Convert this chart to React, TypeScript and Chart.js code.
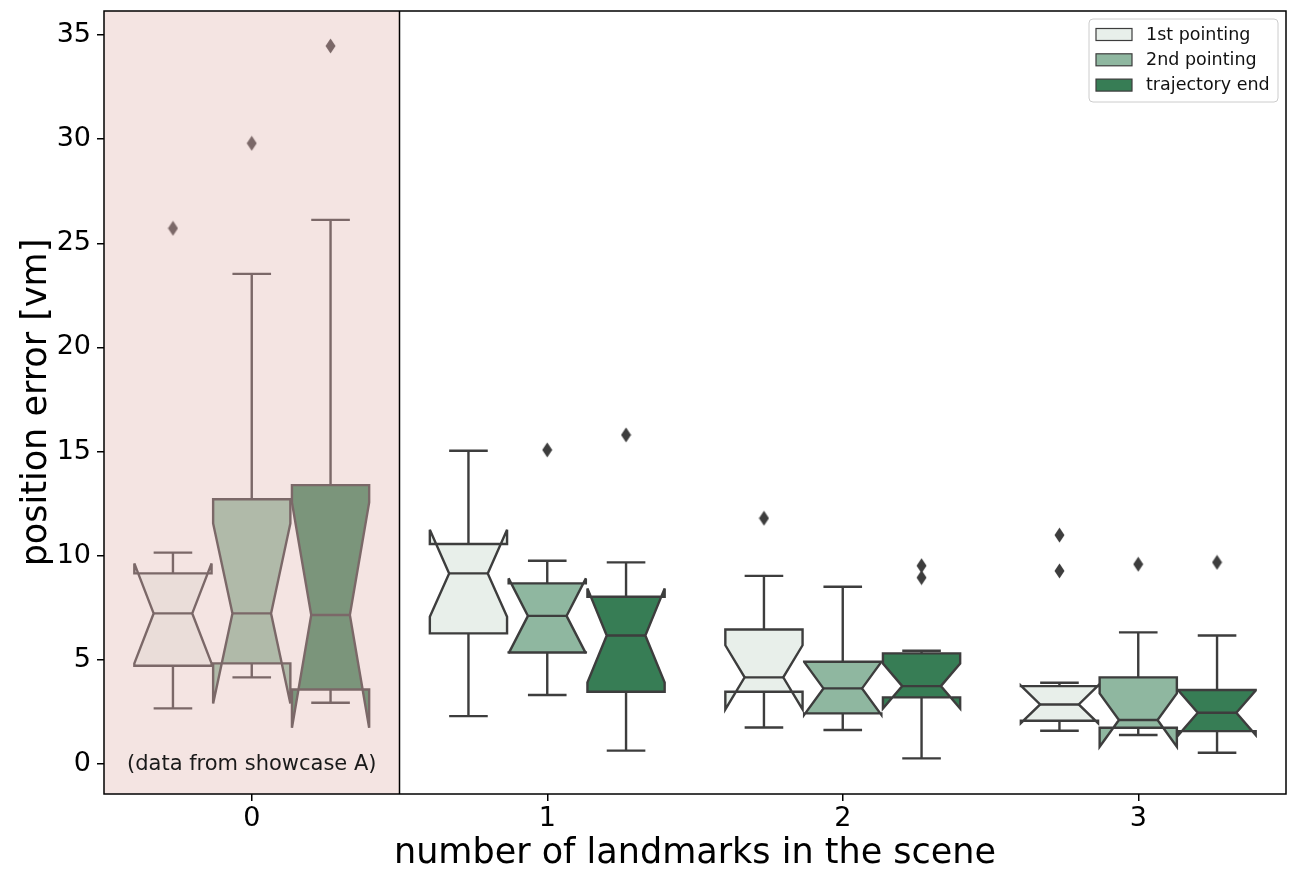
import React, { useEffect, useRef } from 'react';
import { Chart, registerables } from 'chart.js';

Chart.register(...registerables);

// ---------- data ----------
const categories = ['0', '1', '2', '3'];
const seriesNames = ['1st pointing', '2nd pointing', 'trajectory end'];
const yTicks = [0, 5, 10, 15, 20, 25, 30, 35];
const yMin = -1.44;
const yMax = 36.15;

// values are [series][category]
const whiskerLow = [
  [2.67, 2.3, 1.75, 1.6],
  [4.16, 3.31, 1.63, 1.39],
  [2.94, 0.64, 0.27, 0.54],
];
const quartile1 = [
  [4.72, 6.27, 3.47, 2.08],
  [4.83, 5.35, 2.43, 1.74],
  [3.58, 3.47, 3.2, 1.58],
];
const notchLow = [
  [4.83, 7.07, 2.62, 1.96],
  [2.91, 5.31, 2.36, 0.83],
  [1.74, 3.91, 2.66, 1.39],
];
const medians = [
  [7.23, 9.15, 4.16, 2.86],
  [7.23, 7.11, 3.63, 2.11],
  [7.15, 6.17, 3.74, 2.46],
];
const notchHigh = [
  [9.63, 11.25, 5.7, 3.76],
  [11.55, 8.91, 4.9, 3.39],
  [12.56, 8.43, 4.82, 3.53],
];
const quartile3 = [
  [9.15, 10.56, 6.46, 3.74],
  [12.71, 8.67, 4.91, 4.16],
  [13.39, 8.03, 5.31, 3.55],
];
const whiskerHigh = [
  [10.15, 15.04, 9.03, 3.9],
  [23.53, 9.76, 8.51, 6.32],
  [26.12, 9.68, 5.44, 6.17],
];
const outliers = [
  [[25.72], [], [11.8], [10.99, 9.27]],
  [[29.8], [15.08], [], [9.59]],
  [[34.47], [15.8], [9.52, 8.95], [9.68]],
];
const shadedCategories = [0];
const noteText = '(data from showcase A)';
const xTitle = 'number of landmarks in the scene';
const yTitle = 'position error [vm]';

// ---------- style ----------
const FONT = '"DejaVu Sans", sans-serif';
const seriesFill = ['#e8efea', '#8fb7a0', '#377d55'];
const shadedFill = ['#eaddd9', '#b0baa9', '#7b957b'];
const edgeDark = '#3d3d3d';
const edgeShaded = '#7b6868';
const shadeBg = '#f4e4e2';
const groupWidth = 0.8;
const boxLine = 2.4;

const slot = groupWidth / seriesNames.length;
const hueOffset = seriesNames.map((_, s) => (s - (seriesNames.length - 1) / 2) * slot);
const boxWidth = slot * 0.98;

function isShaded(c: number) {
  return shadedCategories.indexOf(c) >= 0;
}

function makeDiamond(color: string) {
  const cv = document.createElement('canvas');
  cv.width = 11;
  cv.height = 16;
  const c = cv.getContext('2d')!;
  c.fillStyle = color;
  c.beginPath();
  c.moveTo(5.5, 0.5);
  c.lineTo(10.5, 8);
  c.lineTo(5.5, 15.5);
  c.lineTo(0.5, 8);
  c.closePath();
  c.fill();
  return cv;
}

const boxPlugin = {
  id: 'notchedBoxes',
  beforeDatasetsDraw(chart: any) {
    const { ctx, chartArea: a, scales } = chart;
    const xs = scales.x;
    const ys = scales.y;
    ctx.save();
    // shaded category background
    shadedCategories.forEach((c) => {
      const l = xs.getPixelForValue(c - 0.5);
      const r = xs.getPixelForValue(c + 0.5);
      ctx.fillStyle = shadeBg;
      ctx.fillRect(l, a.top, r - l, a.bottom - a.top);
    });

    ctx.lineJoin = 'miter';
    ctx.miterLimit = 4;
    ctx.lineCap = 'butt';
    ctx.lineWidth = boxLine;
    const Y = (v: number) => ys.getPixelForValue(v);

    categories.forEach((_, c) => {
      seriesNames.forEach((__, s) => {
        const pos = c + hueOffset[s];
        const shaded = isShaded(c);
        const edge = shaded ? edgeShaded : edgeDark;
        const fill = shaded ? shadedFill[s] : seriesFill[s];
        const left = xs.getPixelForValue(pos - boxWidth / 2);
        const right = xs.getPixelForValue(pos + boxWidth / 2);
        const nl = xs.getPixelForValue(pos - boxWidth / 4);
        const nr = xs.getPixelForValue(pos + boxWidth / 4);
        const cx = xs.getPixelForValue(pos);
        const q1 = Y(quartile1[s][c]);
        const q3 = Y(quartile3[s][c]);
        const lo = Y(notchLow[s][c]);
        const hi = Y(notchHigh[s][c]);
        const md = Y(medians[s][c]);
        const wl = Y(whiskerLow[s][c]);
        const wh = Y(whiskerHigh[s][c]);

        // notched box
        ctx.beginPath();
        ctx.moveTo(left, q1);
        ctx.lineTo(right, q1);
        ctx.lineTo(right, lo);
        ctx.lineTo(nr, md);
        ctx.lineTo(right, hi);
        ctx.lineTo(right, q3);
        ctx.lineTo(left, q3);
        ctx.lineTo(left, hi);
        ctx.lineTo(nl, md);
        ctx.lineTo(left, lo);
        ctx.closePath();
        ctx.fillStyle = fill;
        ctx.fill();
        ctx.strokeStyle = edge;
        ctx.stroke();

        // whiskers and caps
        ctx.beginPath();
        ctx.moveTo(cx, q1);
        ctx.lineTo(cx, wl);
        ctx.moveTo(cx, q3);
        ctx.lineTo(cx, wh);
        ctx.moveTo(nl, wl);
        ctx.lineTo(nr, wl);
        ctx.moveTo(nl, wh);
        ctx.lineTo(nr, wh);
        // median
        ctx.moveTo(nl, md);
        ctx.lineTo(nr, md);
        ctx.stroke();
      });
    });

    // divider of shaded region
    ctx.strokeStyle = '#000';
    ctx.lineWidth = 1.5;
    shadedCategories.forEach((c) => {
      const r = xs.getPixelForValue(c + 0.5);
      ctx.beginPath();
      ctx.moveTo(r, a.top);
      ctx.lineTo(r, a.bottom);
      ctx.stroke();
      ctx.fillStyle = '#1a1a1a';
      ctx.font = '21px ' + FONT;
      ctx.textAlign = 'center';
      ctx.textBaseline = 'alphabetic';
      ctx.fillText(noteText, xs.getPixelForValue(c), a.bottom - 24);
    });
    ctx.restore();
  },
  afterDatasetsDraw(chart: any) {
    const { ctx, chartArea: a } = chart;
    ctx.save();
    // spines
    ctx.strokeStyle = '#000';
    ctx.lineWidth = 1.5;
    ctx.strokeRect(a.left, a.top, a.right - a.left, a.bottom - a.top);

    // legend
    const fw = 189;
    const fh = 83;
    const fx = a.right - 8 - fw;
    const fy = a.top + 8;
    ctx.beginPath();
    if ((ctx as any).roundRect) (ctx as any).roundRect(fx, fy, fw, fh, 4);
    else ctx.rect(fx, fy, fw, fh);
    ctx.fillStyle = 'rgba(255,255,255,0.8)';
    ctx.fill();
    ctx.strokeStyle = '#cccccc';
    ctx.lineWidth = 1;
    ctx.stroke();
    ctx.font = '17.5px ' + FONT;
    ctx.textAlign = 'left';
    ctx.textBaseline = 'alphabetic';
    seriesNames.forEach((name, s) => {
      const base = fy + 20.5 + s * 25.3;
      ctx.fillStyle = seriesFill[s];
      ctx.fillRect(fx + 7, base - 11, 36, 12);
      ctx.strokeStyle = edgeDark;
      ctx.lineWidth = 1.2;
      ctx.strokeRect(fx + 7, base - 11, 36, 12);
      ctx.fillStyle = '#111';
      ctx.fillText(name, fx + 57, base);
    });
    ctx.restore();
  },
};

export default function App() {
  const ref = useRef<HTMLCanvasElement | null>(null);
  useEffect(() => {
    if (!ref.current) return;
    const diamondDark = makeDiamond(edgeDark);
    const diamondShaded = makeDiamond(edgeShaded);
    const datasets = seriesNames.map((name, s) => ({
      type: 'scatter' as const,
      label: name,
      data: outliers[s].flatMap((vals, c) => vals.map((v) => ({ x: c + hueOffset[s], y: v }))),
      pointStyle: (ctx: any) => {
        const raw = ctx.raw;
        if (!raw) return diamondDark;
        return isShaded(Math.round(raw.x)) ? diamondShaded : diamondDark;
      },
      pointRadius: 6,
      showLine: false,
    }));
    const chart = new Chart(ref.current, {
      type: 'scatter',
      data: { datasets },
      options: {
        animation: false,
        responsive: true,
        maintainAspectRatio: false,
        events: [],
        layout: { padding: { left: 0, right: 6, top: 11, bottom: 0 } },
        plugins: { legend: { display: false }, tooltip: { enabled: false } },
        scales: {
          x: {
            type: 'linear',
            min: -0.5,
            max: 3.5,
            afterBuildTicks: (s: any) => {
              s.ticks = categories.map((_, i) => ({ value: i }));
            },
            afterFit: (s: any) => {
              s.height = 77;
              s.paddingLeft = 0;
              s.paddingRight = 0;
              s.paddingTop = 0;
              s.paddingBottom = 0;
            },
            ticks: {
              callback: (v: any) => categories[Math.round(Number(v))],
              font: { family: FONT, size: 27 },
              color: '#000',
              padding: 2,
              autoSkip: false,
              maxRotation: 0,
            },
            grid: { drawOnChartArea: false, drawTicks: true, tickLength: 7, color: '#000', lineWidth: 1.5 },
            border: { display: false },
            title: {
              display: true,
              text: xTitle,
              font: { family: FONT, size: 35, lineHeight: 1 },
              color: '#000',
              padding: { top: 0, bottom: 0 },
            },
          },
          y: {
            type: 'linear',
            min: yMin,
            max: yMax,
            afterBuildTicks: (s: any) => {
              s.ticks = yTicks.map((v) => ({ value: v }));
            },
            afterFit: (s: any) => {
              s.width = 104;
              s.paddingLeft = 0;
              s.paddingRight = 0;
              s.paddingTop = 0;
              s.paddingBottom = 0;
            },
            ticks: {
              font: { family: FONT, size: 27 },
              color: '#000',
              padding: 6,
            },
            grid: { drawOnChartArea: false, drawTicks: true, tickLength: 7, color: '#000', lineWidth: 1.5 },
            border: { display: false },
            title: {
              display: true,
              text: yTitle,
              font: { family: FONT, size: 35 },
              color: '#000',
              padding: { top: 16, bottom: 0 },
            },
          },
        },
      },
      plugins: [boxPlugin],
    } as any);
    return () => chart.destroy();
  }, []);
  return (
    <div style={{ position: 'absolute', left: 0, top: 0, width: 1293, height: 871, background: '#fff' }}>
      <canvas ref={ref} />
    </div>
  );
}
